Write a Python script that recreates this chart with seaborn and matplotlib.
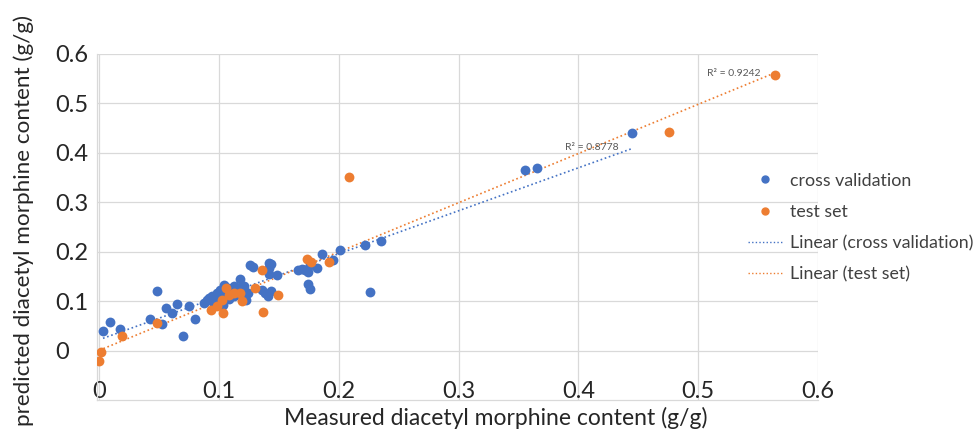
import numpy as np
import matplotlib
matplotlib.use("Agg")
import matplotlib.pyplot as plt
import seaborn as sns
from matplotlib.lines import Line2D

# --- data ---
cv_measured = [
    0.003, 0.009, 0.017, 0.042, 0.048, 0.052, 0.056, 0.061, 0.065, 0.070,
    0.075, 0.080, 0.087, 0.090, 0.0915, 0.094, 0.095, 0.097, 0.0985, 0.100,
    0.101, 0.103, 0.104, 0.105, 0.107, 0.108, 0.110, 0.112, 0.112, 0.113,
    0.115, 0.117, 0.118, 0.119, 0.121, 0.122, 0.124, 0.126, 0.128, 0.136,
    0.138, 0.141, 0.1415, 0.143, 0.142, 0.1415, 0.143, 0.148, 0.166, 0.169,
    0.172, 0.174, 0.1755, 0.176, 0.174, 0.182, 0.186, 0.195, 0.2007, 0.222,
    0.226, 0.235, 0.355, 0.365, 0.445,
]
cv_predicted = [
    0.039, 0.058, 0.044, 0.064, 0.121, 0.053, 0.086, 0.077, 0.094, 0.029,
    0.091, 0.064, 0.096, 0.103, 0.106, 0.110, 0.098, 0.102, 0.117, 0.108,
    0.123, 0.093, 0.133, 0.115, 0.127, 0.105, 0.120, 0.131, 0.110, 0.125,
    0.123, 0.145, 0.129, 0.120, 0.130, 0.103, 0.117, 0.174, 0.169, 0.122,
    0.117, 0.110, 0.177, 0.176, 0.167, 0.154, 0.120, 0.152, 0.162, 0.165,
    0.163, 0.135, 0.125, 0.174, 0.158, 0.168, 0.195, 0.184, 0.204, 0.213,
    0.118, 0.221, 0.366, 0.369, 0.440,
]
test_measured = [
    0.0, 0.001, 0.0185, 0.0485, 0.0935, 0.098, 0.1035, 0.1025, 0.1055, 0.108,
    0.112, 0.117, 0.119, 0.130, 0.136, 0.137, 0.149, 0.1735, 0.177, 0.1915,
    0.208, 0.476, 0.564,
]
test_predicted = [
    -0.022, -0.003, 0.030, 0.056, 0.083, 0.091, 0.077, 0.103, 0.127, 0.113,
    0.117, 0.117, 0.100, 0.127, 0.164, 0.078, 0.113, 0.185, 0.180, 0.180,
    0.352, 0.442, 0.558,
]
r2_labels = ["R² = 0.8778", "R² = 0.9242"]
x_ticks = [0, 0.1, 0.2, 0.3, 0.4, 0.5, 0.6]
y_ticks = [0, 0.1, 0.2, 0.3, 0.4, 0.5, 0.6]
tick_text = ["0", "0.1", "0.2", "0.3", "0.4", "0.5", "0.6"]

blue = "#4472C4"
orange = "#ED7D31"
grid_c = "#D9D9D9"
text_c = "#262626"

sns.set_theme(style="white")
plt.rcParams["font.family"] = ["Lato", "DejaVu Sans"]

fig = plt.figure(figsize=(9.75, 4.32), dpi=100)
ax = fig.add_axes([97 / 975, 1 - 400 / 432, 721 / 975, 346 / 432])

sns.scatterplot(x=cv_measured, y=cv_predicted, ax=ax, color=blue, s=50,
                linewidth=0, zorder=3)
sns.scatterplot(x=test_measured, y=test_predicted, ax=ax, color=orange, s=50,
                linewidth=0, zorder=3)

# Excel-style linear trendlines (round dot)
dot = (0, (1, 1.6))
sns.regplot(x=np.array(cv_measured), y=np.array(cv_predicted), ax=ax,
            scatter=False, ci=None, truncate=True,
            line_kws=dict(color=blue, lw=1.2, ls=dot, zorder=2))
sns.regplot(x=np.array(test_measured), y=np.array(test_predicted), ax=ax,
            scatter=False, ci=None, truncate=True,
            line_kws=dict(color=orange, lw=1.2, ls=dot, zorder=2))

ax.text(0.389, 0.41, r2_labels[0], fontsize=7.5, color="#595959", va="center")
ax.text(0.507, 0.561, r2_labels[1], fontsize=7.5, color="#595959", va="center")

ax.set_xlim(-0.002, 0.6)
ax.set_ylim(-0.1, 0.6)
ax.set_xticks(x_ticks)
ax.set_xticklabels(tick_text)
ax.set_yticks(y_ticks)
ax.set_yticklabels(tick_text)
ax.grid(True, color=grid_c, lw=0.9)
ax.set_axisbelow(True)
for side in ["top", "right"]:
    ax.spines[side].set_visible(False)
for side in ["left", "bottom"]:
    ax.spines[side].set_color(grid_c)
    ax.spines[side].set_linewidth(0.9)

ax.tick_params(axis="x", length=0, pad=-13.5, labelsize=17, colors=text_c)
ax.tick_params(axis="y", length=0, pad=30, labelsize=17, colors=text_c)
for lab in ax.get_yticklabels():
    lab.set_horizontalalignment("left")
    lab.set_verticalalignment("center_baseline")

ax.set_xlabel("Measured diacetyl morphine content (g/g)", fontsize=16.5,
              color=text_c, va="center")
ax.xaxis.set_label_coords(0.553, -0.052)
ax.set_ylabel("predicted diacetyl morphine content (g/g)", fontsize=16.2,
              color=text_c, va="center")
ax.yaxis.set_label_coords(-0.101, 0.52)

handles = [
    Line2D([], [], marker="o", ls="none", color=blue, markersize=5),
    Line2D([], [], marker="o", ls="none", color=orange, markersize=5),
    Line2D([], [], color=blue, lw=1.0, ls=dot),
    Line2D([], [], color=orange, lw=1.0, ls=dot),
]
labels = ["cross validation", "test set", "Linear (cross validation)",
          "Linear (test set)"]
fig.legend(handles, labels, loc="center left",
           bbox_to_anchor=(748 / 975, 1 - 227.5 / 432), frameon=False,
           fontsize=12.8, handlelength=1.95, handletextpad=0.4,
           labelspacing=0.85, borderpad=0, borderaxespad=0,
           labelcolor="#404040")

fig.savefig("out.png", dpi=100)
